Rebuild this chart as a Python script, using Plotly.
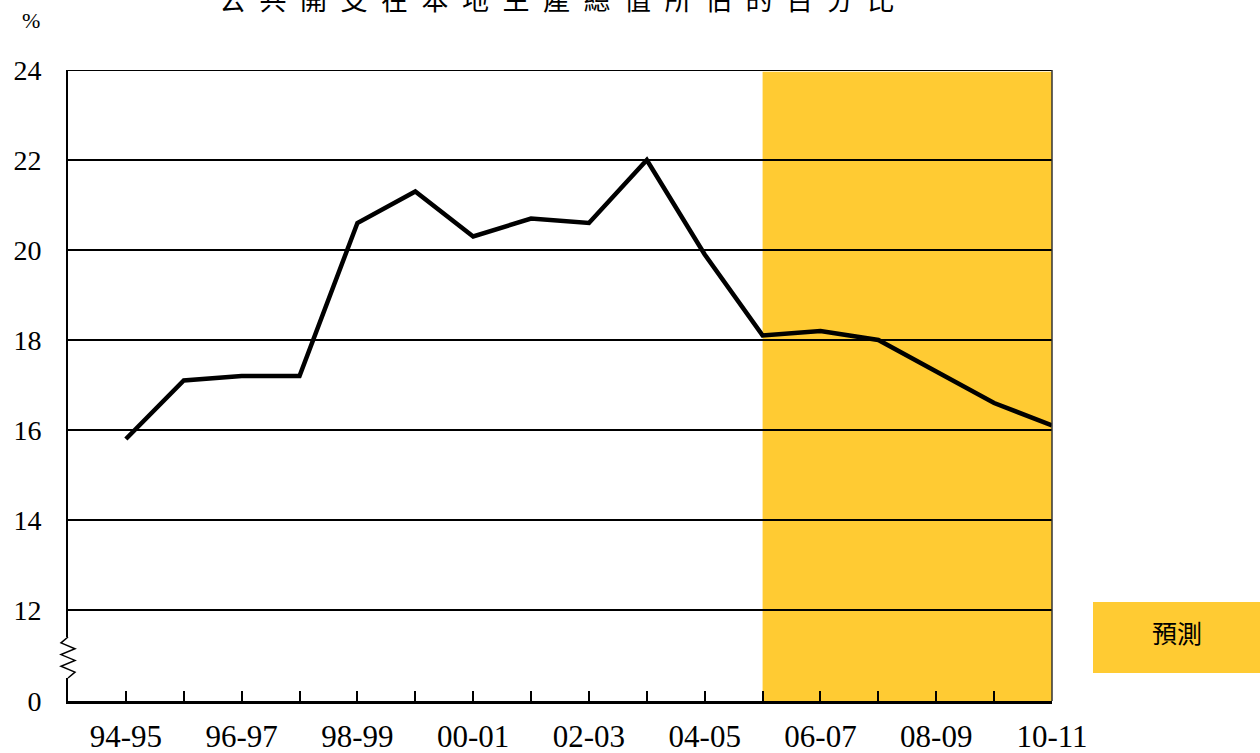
import plotly.graph_objects as go

categories = ["94-95", "95-96", "96-97", "97-98", "98-99", "99-00", "00-01", "01-02",
              "02-03", "03-04", "04-05", "05-06", "06-07", "07-08", "08-09", "09-10", "10-11"]
values = [15.8, 17.1, 17.2, 17.2, 20.6, 21.3, 20.3, 20.7, 20.6, 22.0, 19.9,
          18.1, 18.2, 18.0, 17.3, 16.6, 16.1]
label_cats = ["94-95", "96-97", "98-99", "00-01", "02-03", "04-05", "06-07", "08-09", "10-11"]
ytick_vals = [12, 14, 16, 18, 20, 22, 24]
forecast_start = "05-06"
forecast_end = "10-11"
title_text = "公共開支在本地生產總值所佔的百分比"
legend_text = "預測"

# Broken axis: 0 is drawn a short distance below 12
Y_ZERO_POS = 12 - 91 / 45
Y_TOP = 24

idx = list(range(len(categories)))
fs = categories.index(forecast_start)
fe = categories.index(forecast_end)

YELLOW = "#FFCB33"
PW, PH = 984, 631  # plot area size in px

fig = go.Figure()
fig.add_trace(go.Scatter(x=idx, y=values, mode="lines",
                         line=dict(color="black", width=4.5), showlegend=False,
                         hoverinfo="skip"))

shapes = []
# forecast shading
shapes.append(dict(type="rect", xref="x", yref="y", x0=fs, x1=fe, y0=Y_ZERO_POS, y1=Y_TOP - 0.04,
                   fillcolor=YELLOW, line=dict(width=0), layer="below"))
# top border and right border
shapes.append(dict(type="line", xref="paper", yref="y", x0=0, x1=1, y0=Y_TOP, y1=Y_TOP,
                   line=dict(color="black", width=2), layer="above"))
shapes.append(dict(type="line", xref="paper", yref="y", x0=1, x1=1, y0=Y_ZERO_POS, y1=Y_TOP,
                   line=dict(color="#333333", width=1.5), layer="above"))
# axis break: hide axis segment and draw zigzag
bk_top = 24 - (637 - 70) / 45
bk_bot = 24 - (678 - 70) / 45
shapes.append(dict(type="line", xref="paper", yref="y", x0=0, x1=0, y0=bk_bot, y1=bk_top,
                   line=dict(color="white", width=4), layer="above"))
dx = 7 / PW
n = 7
pts = []
for i in range(n + 1):
    yv = bk_top - (bk_top - bk_bot) * i / n
    if i == 0 or i == n:
        xv = 0
    else:
        xv = -dx if i % 2 == 1 else dx
    pts.append((xv, yv))
path = "M " + " L ".join(f"{x},{y}" for x, y in pts)
shapes.append(dict(type="path", xref="paper", yref="y", path=path,
                   line=dict(color="black", width=1.5), layer="above"))
# legend box
shapes.append(dict(type="rect", xref="paper", yref="paper",
                   x0=(1093 - 68) / PW, x1=(1262 - 68) / PW,
                   y0=(701 - 673) / PH, y1=(701 - 602) / PH,
                   fillcolor=YELLOW, line=dict(width=0), layer="above"))

annotations = [
    dict(text=legend_text, xref="paper", yref="paper", x=(1177 - 68) / PW, y=(701 - 632) / PH,
         showarrow=False, font=dict(family="Noto Sans CJK TC", size=25, color="black"),
         xanchor="center", yanchor="middle"),
    dict(text="%", xref="paper", yref="paper", x=(31 - 68) / PW, y=(701 - 21) / PH,
         showarrow=False, font=dict(family="Liberation Serif", size=22, color="black"),
         xanchor="center", yanchor="middle"),
    dict(text="\u2002".join(title_text), xref="paper", yref="paper", x=(556 - 68) / PW,
         y=(701 + 1.5) / PH, showarrow=False,
         font=dict(family="Noto Sans CJK TC", size=27, color="black"),
         xanchor="center", yanchor="middle"),
]

fig.update_layout(
    width=1260, height=753,
    margin=dict(l=68, r=208, t=70, b=52, autoexpand=False),
    paper_bgcolor="white", plot_bgcolor="white",
    shapes=shapes, annotations=annotations,
    xaxis=dict(range=[-1, len(categories) - 1], tickmode="array",
               tickvals=idx,
               ticktext=[c if c in label_cats else "" for c in categories],
               ticks="inside", ticklen=10, tickwidth=1.5, tickcolor="black",
               showline=True, linecolor="black", linewidth=3,
               showgrid=False, zeroline=False, automargin=False,
               ticklabelstandoff=6,
               tickfont=dict(family="Liberation Serif", size=31, color="black")),
    yaxis=dict(range=[Y_ZERO_POS, Y_TOP], tickmode="array",
               tickvals=[Y_ZERO_POS] + ytick_vals,
               ticktext=["0"] + [str(v) for v in ytick_vals],
               ticks="", showline=True, linecolor="black", linewidth=2,
               showgrid=True, gridcolor="black", gridwidth=1.5, zeroline=False,
               ticklabelstandoff=19, automargin=False,
               tickfont=dict(family="Liberation Serif", size=28, color="black")),
)

fig.write_html("out.html", config={"displayModeBar": False},
               post_script="document.body.style.margin='0';")
